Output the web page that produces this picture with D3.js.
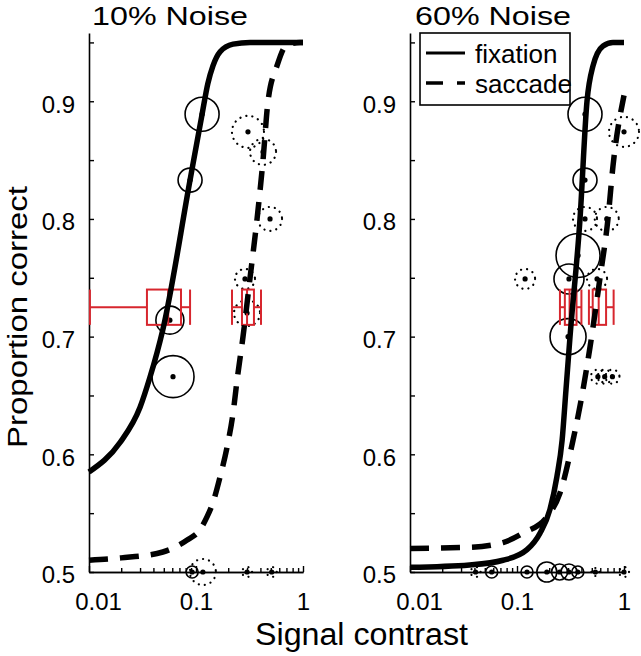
<!DOCTYPE html>
<html>
<head>
<meta charset="utf-8">
<script src="https://cdn.jsdelivr.net/npm/d3@7"></script>
<style>
html,body{margin:0;padding:0;background:#fff;}
svg{display:block;}
text{font-family:"Liberation Sans",Arial,Helvetica,sans-serif;fill:#000;}
</style>
</head>
<body>
<svg id="chart" width="641" height="656"></svg>
<script>
// ---------- data ----------
const panelTitles = ["10% Noise", "60% Noise"];
const xMajorTicks = [0.01, 0.1, 1];
const xMinorTicks = [0.02,0.03,0.04,0.05,0.06,0.07,0.08,0.09,0.2,0.3,0.4,0.5,0.6,0.7,0.8,0.9];
const yTicks = [0.5,0.55,0.6,0.65,0.7,0.75,0.8,0.85,0.9,0.95];
const yLabelTicks = [0.5,0.6,0.7,0.8,0.9];

// fitted curves, 10% noise
const fix10C = [0.01,0.0195,0.030,0.037,0.049,0.088,0.114,0.129,0.144,0.168,0.222,0.32,1];
const fix10P = [0.585,0.61,0.64,0.665,0.706,0.833,0.889,0.915,0.93,0.942,0.9485,0.95,0.95];
const sac10C = [0.01,0.02,0.049,0.082,0.109,0.127,0.144,0.168,0.195,0.222,0.242,0.275,0.32,0.372,0.423,0.471,0.571,0.693,0.94,1];
const sac10P = [0.510,0.512,0.517,0.527,0.536,0.547,0.559,0.581,0.606,0.635,0.663,0.70,0.75,0.80,0.85,0.90,0.93,0.947,0.95,0.95];
// fitted curves, 60% noise
const fix60C = [0.01,0.036,0.074,0.124,0.164,0.203,0.236,0.264,0.287,0.313,0.388,0.451,0.513,0.637,0.789,1];
const fix60P = [0.504,0.506,0.510,0.519,0.533,0.553,0.581,0.612,0.655,0.70,0.80,0.90,0.93,0.947,0.95,0.95];
const sac60C = [0.01,0.036,0.074,0.114,0.191,0.252,0.334,0.414,0.481,0.597,0.708,0.789,1];
const sac60P = [0.520,0.521,0.525,0.533,0.547,0.567,0.612,0.655,0.691,0.75,0.80,0.845,0.905];

// observed data points: contrast, proportion correct, marker size
const fixPts10C = [0.114,0.088,0.057,0.061,0.092];
const fixPts10P = [0.889,0.833,0.714,0.666,0.5];
const fixPts10S = [17,12,14,21,6];
const sacPts10C = [0.306,0.423,0.492,0.287,0.30,0.116,0.30,0.51];
const sacPts10P = [0.874,0.857,0.80,0.749,0.72,0.5,0.5,0.5];
const sacPts10S = [16,13,12,10,13,13,5,5];

const fixPts60C = [0.432,0.432,0.372,0.306,0.30,0.058,0.124,0.19,0.25,0.306,0.37];
const fixPts60P = [0.889,0.833,0.769,0.749,0.70,0.5,0.5,0.5,0.5,0.5,0.5];
const fixPts60S = [17,12,22,15,18,6,6,10,8,8,6];
const sacPts60C = [1.0,0.432,0.69,0.119,0.56,0.57,0.66,0.78,0.041,0.54,1.0];
const sacPts60P = [0.874,0.80,0.80,0.749,0.749,0.666,0.666,0.666,0.5,0.5,0.5];
const sacPts60S = [15,12,12,10,10,7,7,7,5,4,5];

// threshold box plots: [lower whisker, q1, median, q3, upper whisker]
const boxLevel = 0.725;
const boxHalf = 0.015;
const fixBox10 = [0.0102,0.0348,0.055,0.0724,0.088];
const sacBox10 = [0.217,0.269,0.30,0.348,0.405];
const fixBox60 = [0.252,0.28,0.31,0.36,0.40];
const sacBox60 = [0.47,0.51,0.58,0.68,0.80];

const legendLabels = ["fixation","saccade"];

// ---------- drawing ----------
const svg = d3.select("#chart");
const RED = "#d7262e";
const yScale = d3.scaleLinear().domain([0.5,0.958]).range([572,33]);

const panels = [
  {x0:89, x1:303, title:panelTitles[0], titleX:92,
   fixC:fix10C, fixP:fix10P, sacC:sac10C, sacP:sac10P,
   fpC:fixPts10C, fpP:fixPts10P, fpS:fixPts10S,
   spC:sacPts10C, spP:sacPts10P, spS:sacPts10S,
   boxes:[fixBox10,sacBox10]},
  {x0:410, x1:624, title:panelTitles[1], titleX:415,
   fixC:fix60C, fixP:fix60P, sacC:sac60C, sacP:sac60P,
   fpC:fixPts60C, fpP:fixPts60P, fpS:fixPts60S,
   spC:sacPts60C, spP:sacPts60P, spS:sacPts60S,
   boxes:[fixBox60,sacBox60]}
];

panels.forEach((pn, i) => {
  const x = d3.scaleLog().domain([0.01,1]).range([pn.x0, pn.x1]);
  const g = svg.append("g");

  // axes
  const yAx = d3.axisLeft(yScale).tickValues(yTicks).tickSize(-5).tickSizeOuter(0)
    .tickPadding(14)
    .tickFormat(d => yLabelTicks.some(v => Math.abs(v-d)<1e-9) ? d3.format(".1f")(d) : "");
  const yG = g.append("g").attr("transform", `translate(${pn.x0},0)`).call(yAx);
  yG.selectAll("text").attr("font-size",24).attr("dy","0.45em");

  const xMin = d3.axisBottom(x).tickValues(xMinorTicks).tickSize(-4).tickSizeOuter(0).tickFormat("");
  const xMaj = d3.axisBottom(x).tickValues(xMajorTicks).tickSize(-6).tickSizeOuter(0)
    .tickPadding(21).tickFormat(d => d===1 ? "1" : String(d));
  g.append("g").attr("transform","translate(0,572)").call(xMin);
  const xG = g.append("g").attr("transform","translate(0,572)").call(xMaj);
  xG.selectAll("text").attr("font-size",24)
    .attr("dx", d => d===0.01 ? 9 : 0);
  g.selectAll(".domain").attr("stroke","#000").attr("stroke-width",1.6);
  g.selectAll(".tick line").attr("stroke","#000").attr("stroke-width",1.4);

  // title
  g.append("text").attr("x", pn.titleX).attr("y", 25)
    .attr("font-size", 26).attr("textLength", 156).attr("lengthAdjust","spacingAndGlyphs")
    .text(pn.title);

  // dotted (saccade) data circles
  pn.spC.forEach((c, k) => {
    g.append("circle").attr("cx", x(c)).attr("cy", yScale(pn.spP[k])).attr("r", pn.spS[k])
      .attr("fill","none").attr("stroke","#000").attr("stroke-width",2.2)
      .attr("stroke-dasharray","0.1,6").attr("stroke-linecap","round");
    g.append("circle").attr("cx", x(c)).attr("cy", yScale(pn.spP[k])).attr("r", 2.6).attr("fill","#000");
  });
  // solid (fixation) data circles
  pn.fpC.forEach((c, k) => {
    g.append("circle").attr("cx", x(c)).attr("cy", yScale(pn.fpP[k])).attr("r", pn.fpS[k])
      .attr("fill","none").attr("stroke","#000").attr("stroke-width",1.6);
    g.append("circle").attr("cx", x(c)).attr("cy", yScale(pn.fpP[k])).attr("r", 2.6).attr("fill","#000");
  });

  // box plots
  pn.boxes.forEach(b => {
    const bg = g.append("g").attr("stroke", RED).attr("stroke-width",2).attr("fill","none");
    const yt = yScale(boxLevel+boxHalf), yb = yScale(boxLevel-boxHalf), ym = yScale(boxLevel);
    bg.append("line").attr("x1",x(b[0])).attr("x2",x(b[1])).attr("y1",ym).attr("y2",ym);
    bg.append("line").attr("x1",x(b[3])).attr("x2",x(b[4])).attr("y1",ym).attr("y2",ym);
    bg.append("line").attr("x1",x(b[0])).attr("x2",x(b[0])).attr("y1",yt).attr("y2",yb);
    bg.append("line").attr("x1",x(b[4])).attr("x2",x(b[4])).attr("y1",yt).attr("y2",yb);
    bg.append("rect").attr("x",x(b[1])).attr("y",yt).attr("width",x(b[3])-x(b[1])).attr("height",yb-yt);
    bg.append("line").attr("x1",x(b[2])).attr("x2",x(b[2])).attr("y1",yt).attr("y2",yb);
  });

  // fitted curves
  const line = d3.line().x(d => x(d[0])).y(d => yScale(d[1])).curve(d3.curveMonotoneX);
  g.append("path").datum(pn.sacC.map((c,k)=>[c,pn.sacP[k]])).attr("d", line)
    .attr("fill","none").attr("stroke","#000").attr("stroke-width",5.5)
    .attr("stroke-dasharray","19,12");
  g.append("path").datum(pn.fixC.map((c,k)=>[c,pn.fixP[k]])).attr("d", line)
    .attr("fill","none").attr("stroke","#000").attr("stroke-width",5.5);
});

// axis labels
svg.append("text").attr("x", 255).attr("y", 645).attr("font-size", 31)
  .attr("textLength", 213).attr("lengthAdjust","spacingAndGlyphs").text("Signal contrast");
svg.append("text").attr("transform","translate(27,448) rotate(-90)").attr("font-size", 27)
  .attr("textLength", 262).attr("lengthAdjust","spacingAndGlyphs").text("Proportion correct");

// legend
const lg = svg.append("g");
lg.append("rect").attr("x",420).attr("y",33).attr("width",150).attr("height",72)
  .attr("fill","#fff").attr("stroke","#000").attr("stroke-width",1.6);
lg.append("line").attr("x1",426).attr("x2",465).attr("y1",53).attr("y2",53)
  .attr("stroke","#000").attr("stroke-width",3);
lg.append("line").attr("x1",426).attr("x2",465).attr("y1",83).attr("y2",83)
  .attr("stroke","#000").attr("stroke-width",3.5).attr("stroke-dasharray","17,14");
lg.append("text").attr("x",475).attr("y",63).attr("font-size",26).text(legendLabels[0]);
lg.append("text").attr("x",475).attr("y",93).attr("font-size",26).text(legendLabels[1]);
</script>
</body>
</html>
